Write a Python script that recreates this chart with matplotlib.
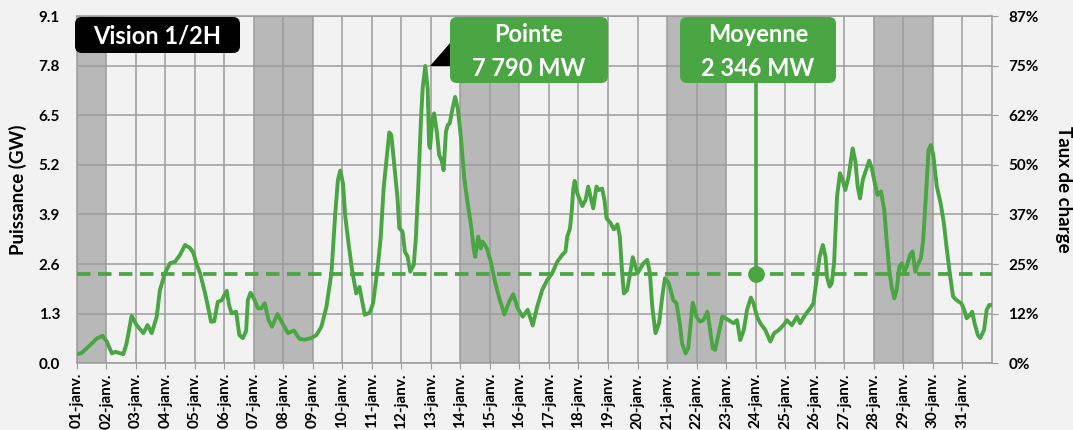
import matplotlib.pyplot as plt
from matplotlib.patches import FancyBboxPatch, Polygon

plt.rcParams['font.family'] = ['Lato', 'DejaVu Sans']
plt.rcParams['font.weight'] = 'bold'
plt.rcParams['axes.labelweight'] = 'bold'

# Wind output, half-hour view
# days since 01-janv. 00:00 / power in GW
days = [0.02, 0.17, 0.51, 0.68, 0.88, 1.02, 1.19, 1.3, 1.58, 1.69, 1.86, 2.03,
        2.26, 2.4, 2.54, 2.71, 2.82, 2.99, 3.16, 3.33, 3.5, 3.67, 3.84, 3.95,
        4.06, 4.18, 4.35, 4.46, 4.55, 4.66, 4.78, 4.91, 5.08, 5.17, 5.25, 5.4,
        5.51, 5.63, 5.74, 5.8, 5.89, 6.0, 6.14, 6.25, 6.37, 6.5, 6.62, 6.8,
        6.94, 7.16, 7.36, 7.55, 7.72, 7.95, 8.12, 8.29, 8.46, 8.63, 8.76, 8.85,
        8.93, 9.02, 9.1, 9.21, 9.33, 9.47, 9.58, 9.76, 9.93, 10.04, 10.2, 10.3,
        10.4, 10.48, 10.59, 10.66, 10.76, 10.87, 10.93, 11.04, 11.12, 11.21,
        11.3, 11.42, 11.49, 11.57, 11.66, 11.72, 11.81, 11.89, 11.94, 11.97,
        12.06, 12.11, 12.2, 12.28, 12.37, 12.43, 12.51, 12.57, 12.64, 12.7,
        12.82, 12.91, 13.02, 13.13, 13.27, 13.36, 13.45, 13.5, 13.6, 13.69,
        13.75, 13.9, 14.03, 14.17, 14.32, 14.49, 14.65, 14.79, 14.94, 15.11,
        15.28, 15.45, 15.6, 15.77, 15.94, 16.11, 16.28, 16.45, 16.56, 16.62,
        16.71, 16.77, 16.82, 16.87, 16.96, 17.13, 17.24, 17.33, 17.41, 17.5,
        17.61, 17.69, 17.8, 17.88, 17.95, 18.09, 18.2, 18.32, 18.4, 18.48,
        18.54, 18.65, 18.77, 18.84, 18.93, 19.0, 19.1, 19.2, 19.33, 19.42,
        19.5, 19.61, 19.73, 19.84, 19.93, 20.06, 20.21, 20.32, 20.43, 20.51,
        20.63, 20.72, 20.8, 20.87, 21.0, 21.12, 21.23, 21.37, 21.46, 21.55,
        21.63, 21.75, 21.87, 21.98, 22.09, 22.17, 22.26, 22.37, 22.48, 22.6,
        22.71, 22.84, 22.93, 23.05, 23.16, 23.33, 23.5, 23.63, 23.78, 23.95,
        24.06, 24.23, 24.4, 24.51, 24.68, 24.85, 24.96, 25.08, 25.17, 25.28,
        25.37, 25.42, 25.51, 25.58, 25.66, 25.76, 25.86, 25.95, 26.04, 26.15,
        26.29, 26.38, 26.46, 26.54, 26.63, 26.74, 26.85, 26.94, 27.04, 27.13,
        27.25, 27.36, 27.44, 27.53, 27.62, 27.7, 27.78, 27.87, 27.96, 28.04,
        28.12, 28.23, 28.32, 28.41, 28.49, 28.6, 28.68, 28.77, 28.86, 28.94,
        29.02, 29.14, 29.27, 29.38, 29.47, 29.58, 29.69, 29.8, 29.97, 30.07,
        30.15, 30.27, 30.34, 30.42, 30.53, 30.61, 30.74, 30.83, 30.92, 30.99]
gw = [0.24, 0.27, 0.52, 0.65, 0.72, 0.57, 0.26, 0.3, 0.24, 0.52, 1.24, 1.0,
      0.79, 1.0, 0.79, 1.22, 1.92, 2.36, 2.62, 2.66, 2.84, 3.1, 3.02, 2.9,
      2.6, 2.36, 1.83, 1.44, 1.09, 1.1, 1.61, 1.65, 1.9, 1.5, 1.31, 1.35,
      0.74, 0.66, 0.85, 1.66, 1.85, 1.7, 1.44, 1.44, 1.57, 1.13, 0.96, 1.29,
      1.09, 0.79, 0.86, 0.64, 0.62, 0.66, 0.74, 0.96, 1.48, 2.36, 3.93, 4.8,
      5.05, 4.72, 3.84, 3.14, 2.44, 1.83, 2.0, 1.27, 1.33, 1.57, 2.53, 3.3,
      4.6, 5.2, 6.05, 5.98, 5.2, 4.32, 3.54, 3.45, 2.92, 2.8,
      2.4, 2.58, 3.27, 4.58, 6.33, 7.2, 7.79, 7.2, 5.72, 5.64,
      6.42, 6.55, 6.07, 5.46, 5.3, 5.06, 6.07, 6.24, 6.29, 6.55,
      6.98, 6.68, 5.9, 4.85, 4.06, 3.62, 3.01, 2.79, 3.32, 3.01,
      3.19, 3.01, 2.66, 2.14, 1.7, 1.28, 1.61, 1.81, 1.44, 1.22,
      1.4, 0.99, 1.48, 1.92, 2.18, 2.36, 2.66, 2.84, 2.93, 3.32,
      3.53, 3.97, 4.54, 4.78, 4.45, 4.12, 4.28, 4.63, 4.36, 4.06,
      4.63, 4.54, 4.58, 4.28, 3.8, 3.67, 3.51, 3.64, 3.32, 2.36,
      1.83, 1.92, 2.44, 2.78, 2.53, 2.36, 2.49, 2.62, 2.71, 2.36,
      1.48, 0.79, 1.05, 1.75, 2.23, 2.1, 1.66, 1.57, 1.05, 0.52,
      0.26, 0.4, 1.05, 1.59, 1.22, 1.09, 1.13, 1.35, 0.87, 0.39,
      0.35, 0.79, 1.22, 1.18, 1.13, 1.09, 1.05, 1.13, 0.61, 0.87,
      1.4, 1.72, 1.57, 1.22, 1.05, 0.87, 0.57, 0.79, 0.87, 1.0,
      1.13, 1.0, 1.22, 1.05, 1.27, 1.44, 1.57, 2.27, 2.79, 3.1,
      2.79, 2.27, 2.01, 2.1, 2.62, 4.37, 4.98, 4.8, 4.54, 4.89,
      5.63, 5.3, 4.63, 4.32, 4.8, 5.06, 5.31, 5.1, 4.72, 4.41,
      4.5, 4.02, 3.23, 2.44, 1.96, 1.7, 1.92, 2.53, 2.62, 2.4,
      2.53, 2.84, 2.93, 2.4, 2.58, 2.75, 3.23, 4.37, 5.59, 5.72,
      5.46, 4.63, 4.19, 3.67, 3.05, 2.36, 1.75, 1.66, 1.57, 1.4,
      1.18, 1.27, 1.35, 1.05, 0.74, 0.66, 0.87, 1.4, 1.53, 1.53]

day_labels = ["%02d-janv." % d for d in range(1, 32)]
weekends = [(0, 1), (6, 8), (13, 15), (20, 22), (27, 29)]
gw_ticks = [0.0, 1.3, 2.6, 3.9, 5.2, 6.5, 7.8, 9.1]
pct_labels = ["0%", "12%", "25%", "37%", "50%", "62%", "75%", "87%"]
peak_mw = 7790
mean_mw = 2346
mean_day = 23.0

BG = "#f2f2f2"
BAND = "#b8b8b8"
GRID = "#9c9c9c"
GREEN = "#4aa543"

W, H = 1073, 430
fig = plt.figure(figsize=(W / 100, H / 100), dpi=100, facecolor=BG)
L, R, T, B = 76.7, 991.7, 16.0, 363.3
ax = fig.add_axes([L / W, 1 - B / H, (R - L) / W, (B - T) / H])
ax.set_facecolor(BG)

for a, b in weekends:
    ax.axvspan(a, b, color=BAND, lw=0, zorder=0)

ax.set_xlim(0, 31)
ax.set_ylim(0, 9.1)
ax.set_xticks(range(31))
ax.set_xticklabels(day_labels, rotation=90, fontsize=11, fontweight="bold")
ax.set_yticks(gw_ticks)
ax.set_yticklabels(["%.1f" % t for t in gw_ticks], fontsize=11,
                   fontweight="bold")
ax.grid(True, color=GRID, lw=1.1, zorder=1)
ax.set_axisbelow(True)
ax.tick_params(axis="x", length=4, color=GRID, pad=3)
ax.tick_params(axis="y", length=0, pad=12)
for s in ax.spines.values():
    s.set_color(GRID)
    s.set_linewidth(1.1)

ax.set_ylabel("Puissance (GW)", fontsize=13.5, fontweight="bold", labelpad=8)

# average line + marker
mean_gw = mean_mw / 1000
ax.axhline(mean_gw, color=GREEN, lw=2.7, dashes=(3.6, 2.0), zorder=3)
ax.plot(days, gw, color=GREEN, lw=2.8, zorder=4, solid_joinstyle="round")
ax.plot([mean_day, mean_day], [mean_gw, 7.34], color=GREEN, lw=2.6, zorder=5,
        clip_on=False)
ax.plot(mean_day, mean_gw, "o", color=GREEN, ms=11, zorder=6)

ax2 = ax.twinx()
ax2.set_ylim(0, 9.1)
ax2.set_yticks(gw_ticks)
ax2.set_yticklabels(pct_labels, fontsize=11, fontweight="bold")
ax2.tick_params(axis="y", length=4, color=GRID, pad=8)
for s in ax2.spines.values():
    s.set_visible(False)
ax2.set_ylabel("Taux de charge", fontsize=13.5, fontweight="bold",
               rotation=-90, labelpad=24)


def px(x, y):
    return x / 100, (H - y) / 100


def box(x0, y0, x1, y1, color):
    p = FancyBboxPatch(px(x0, y1), (x1 - x0) / 100, (y1 - y0) / 100,
                       boxstyle="round,pad=0,rounding_size=0.07",
                       transform=fig.dpi_scale_trans, fc=color, ec="none",
                       zorder=10)
    fig.add_artist(p)


def label(x, y, s, size=16):
    fig.text(x / W, 1 - y / H, s, color="white", fontsize=size,
             fontweight="bold", ha="center", va="center", zorder=11)


box(75, 17, 240, 53, "black")
label(157, 36, "Vision 1/2H", 17)

tri = Polygon([px(430, 66), px(451, 42), px(451, 66)], closed=True,
              transform=fig.dpi_scale_trans, fc="black", ec="none", zorder=9)
fig.add_artist(tri)
box(450, 17, 608, 83, GREEN)
label(529, 35, "Pointe", 17)
label(529, 68, "{:,}".format(peak_mw).replace(",", " ") + " MW", 17)

box(680, 17, 836, 83, GREEN)
label(758, 35, "Moyenne", 17)
label(758, 68, "{:,}".format(mean_mw).replace(",", " ") + " MW", 17)

fig.savefig("out.png", dpi=100, facecolor=BG)
